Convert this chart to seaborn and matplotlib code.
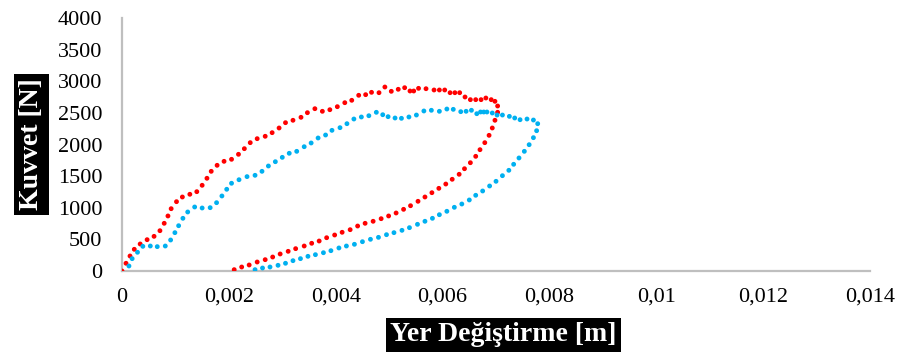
import matplotlib
matplotlib.use("Agg")
import matplotlib.pyplot as plt
import seaborn as sns
import pandas as pd

# Force-displacement curves (loading + unloading), two specimens
red_x = [0, 0.000075, 0.00015, 0.00023, 0.00034, 0.00047, 0.0006, 0.00071, 0.00079, 0.00086,
         0.00092, 0.00102, 0.00113, 0.00127, 0.0014, 0.0015, 0.00159, 0.00167, 0.00178, 0.00191,
         0.00205, 0.00218, 0.00229, 0.0024, 0.00253, 0.00268, 0.00281, 0.00294, 0.00306, 0.0032,
         0.00335, 0.00347, 0.00361, 0.00375, 0.00389, 0.00403, 0.00417, 0.0043, 0.00443, 0.00456,
         0.00467, 0.00481, 0.00492, 0.00504, 0.00517, 0.00529, 0.00539, 0.00546, 0.00555, 0.00569,
         0.00584, 0.00594, 0.00604, 0.00614, 0.00623, 0.00632, 0.00642, 0.00652, 0.00662, 0.00672,
         0.00681, 0.00691, 0.00698, 0.00703,
         0.00703, 0.00698, 0.00693, 0.00687, 0.00679, 0.0067, 0.00662, 0.00652, 0.00641, 0.00631,
         0.00618, 0.00606, 0.00593, 0.0058, 0.00567, 0.00554, 0.0054, 0.00527, 0.00513, 0.00499,
         0.00485, 0.0047, 0.00455, 0.00441, 0.00427, 0.00412, 0.00398, 0.00383, 0.00369, 0.00355,
         0.00341, 0.00325, 0.00311, 0.00296, 0.00282, 0.00268, 0.00253, 0.00238, 0.00224, 0.0021]
red_y = [0, 122, 237, 343, 427, 495, 548, 637, 754, 870,
         985, 1096, 1170, 1213, 1254, 1355, 1466, 1576, 1671, 1734,
         1766, 1845, 1934, 2029, 2092, 2130, 2187, 2261, 2345, 2383,
         2430, 2503, 2566, 2525, 2550, 2598, 2661, 2699, 2778, 2788,
         2825, 2819, 2909, 2841, 2873, 2898, 2846, 2846, 2888, 2882,
         2862, 2862, 2862, 2819, 2819, 2819, 2751, 2709, 2709, 2709,
         2735, 2709, 2683, 2609,
         2509, 2383, 2261, 2145, 2029, 1918, 1813, 1712, 1617, 1529,
         1450, 1375, 1307, 1238, 1170, 1102, 1032, 975, 917, 870,
         827, 786, 754, 711, 653, 612, 569, 526, 474, 438,
         395, 353, 311, 269, 221, 179, 142, 95, 63, 21]

blue_x = [0.00013, 0.00019, 0.00029, 0.00039, 0.00053, 0.00066, 0.00081, 0.00091, 0.00099, 0.00106,
          0.00114, 0.00123, 0.00136, 0.0015, 0.00165, 0.00177, 0.00187, 0.00196, 0.00205, 0.00219,
          0.00234, 0.00249, 0.00262, 0.00274, 0.00287, 0.003, 0.00313, 0.00327, 0.00341, 0.00354,
          0.00367, 0.00381, 0.00393, 0.00408, 0.00421, 0.00434, 0.00448, 0.00462, 0.00476, 0.00488,
          0.00498, 0.00511, 0.00523, 0.00537, 0.00551, 0.00565, 0.00579, 0.00594, 0.00608, 0.0062,
          0.00634, 0.00644, 0.00654, 0.00664, 0.00671, 0.00677, 0.00683, 0.00693, 0.00702, 0.00712,
          0.00725, 0.00735, 0.00745, 0.00758, 0.0077, 0.00778,
          0.00776, 0.0077, 0.00762, 0.00753, 0.00743, 0.00733, 0.00724, 0.00712, 0.007, 0.00688,
          0.00675, 0.00662, 0.0065, 0.00636, 0.00622, 0.00608, 0.00594, 0.00581, 0.00567, 0.00553,
          0.00538, 0.00524, 0.00509, 0.00495, 0.0048, 0.00465, 0.0045, 0.00435, 0.0042, 0.00406,
          0.00391, 0.00377, 0.00362, 0.00348, 0.00334, 0.0032, 0.00306, 0.00292, 0.00277, 0.00263,
          0.00249]
blue_y = [79, 195, 296, 390, 395, 385, 395, 490, 606, 716,
          833, 933, 1012, 996, 1001, 1080, 1186, 1292, 1387, 1443,
          1492, 1513, 1576, 1660, 1728, 1797, 1861, 1892, 1965, 2024,
          2103, 2150, 2224, 2266, 2329, 2403, 2435, 2455, 2509, 2471,
          2440, 2419, 2414, 2435, 2466, 2530, 2541, 2525, 2561, 2556,
          2519, 2525, 2541, 2487, 2514, 2514, 2514, 2498, 2466, 2466,
          2445, 2419, 2392, 2403, 2387, 2329,
          2218, 2108, 1997, 1892, 1787, 1687, 1592, 1507, 1418, 1344,
          1265, 1197, 1123, 1059, 1007, 944, 890, 833, 786, 738,
          685, 643, 606, 574, 532, 501, 463, 422, 395, 364,
          321, 289, 258, 232, 195, 163, 122, 90, 63, 47,
          21]

x_ticks = [0, 0.002, 0.004, 0.006, 0.008, 0.01, 0.012, 0.014]
x_tick_labels = ["0", "0,002", "0,004", "0,006", "0,008", "0,01", "0,012", "0,014"]
y_ticks = [0, 500, 1000, 1500, 2000, 2500, 3000, 3500, 4000]
x_label = "Yer Değiştirme [m]"
y_label = "Kuvvet [N]"

df = pd.concat([
    pd.DataFrame({"x": red_x, "y": red_y, "seri": "A"}),
    pd.DataFrame({"x": blue_x, "y": blue_y, "seri": "B"}),
])

sns.set_theme(style="white")
plt.rcParams["font.family"] = ["Liberation Serif", "DejaVu Serif"]

fig = plt.figure(figsize=(9.03, 3.56), dpi=100)
ax = fig.add_axes([0.1351, 0.2388, 0.8284, 0.7106])

sns.scatterplot(data=df, x="x", y="y", hue="seri",
                palette={"A": "#FF0000", "B": "#00B0F0"},
                s=12, linewidth=0, legend=False, ax=ax, zorder=3)

ax.set_xlim(0, 0.014)
ax.set_ylim(0, 4000)
ax.set_xticks(x_ticks)
ax.set_xticklabels(x_tick_labels)
ax.set_yticks(y_ticks)
ax.set_yticklabels([str(v) for v in y_ticks])
ax.set_xlabel("")
ax.set_ylabel("")

for side in ("top", "right"):
    ax.spines[side].set_visible(False)
for side in ("left", "bottom"):
    ax.spines[side].set_color("#BFBFBF")
    ax.spines[side].set_linewidth(1.6)
    ax.spines[side].set_zorder(1)

ax.tick_params(axis="both", which="major", direction="out", length=4,
               width=1.3, color="#BFBFBF", labelsize=16, labelcolor="black")
ax.tick_params(axis="x", pad=8)
ax.tick_params(axis="y", pad=10)
ax.grid(False)

box = dict(boxstyle="square,pad=0.17", facecolor="black", edgecolor="none")
fig.text(0.5576, 0.059, x_label, ha="center", va="center", color="white",
         fontsize=20, fontweight="bold", bbox=box)
fig.text(0.0349, 0.594, y_label, ha="center", va="center", color="white",
         fontsize=20, fontweight="bold", rotation=90, bbox=box)

fig.savefig("out.png", dpi=100, facecolor="white")
